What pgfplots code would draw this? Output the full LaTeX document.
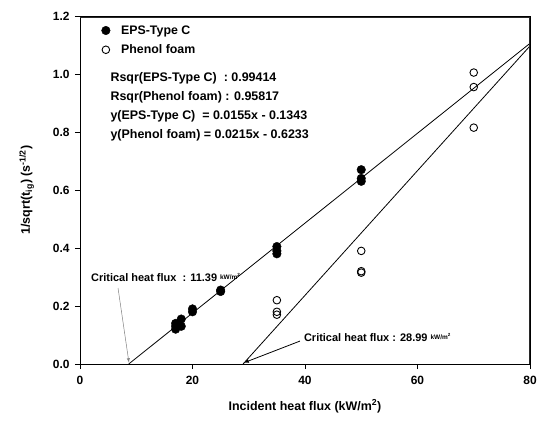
\documentclass[border=0pt]{standalone}
\usepackage{pgfplots}
\pgfplotsset{compat=1.18}
\usepackage{fontspec}
\setmainfont{Liberation Sans}
\definecolor{framegray}{RGB}{40,40,40}
\begin{document}
\begin{tikzpicture}
\begin{axis}[
  name=ax,
  scale only axis,
  width=450bp, height=348bp,
  xmin=0, xmax=80, ymin=0, ymax=1.2,
  xtick={0,20,40,60,80},
  ytick={0,0.2,0.4,0.6,0.8,1.0,1.2},
  axis line style={black, line width=0.8pt},
  tick style={black, line width=0.7pt},
  tick align=outside,
  tick pos=left,
  major tick length=5bp,
  /pgf/number format/assume math mode=true,
  yticklabel style={xshift=-2bp, /pgf/number format/fixed, /pgf/number format/fixed zerofill, /pgf/number format/precision=1},
  tick label style={font=\fontsize{12}{14}\selectfont\bfseries},
  xticklabel style={yshift=-4bp},
  label style={font=\fontsize{12.5}{14}\selectfont\bfseries},
  xlabel={Incident heat flux (kW/m\textsuperscript{2})},
  ylabel={1/sqrt(t\textsubscript{ig}) (s\textsuperscript{-1/2})},
  xlabel style={yshift=-8bp},
  ylabel style={yshift=12bp},
  legend style={at={(axis cs:3.8,1.175)}, anchor=north west, draw=none, fill=none,
    font=\fontsize{12.4}{14}\selectfont\bfseries, row sep=5bp, column sep=9bp, inner sep=0pt},
  legend cell align=left,
  clip=false,
]
\addplot[only marks, mark=*, mark size=4.3bp, mark options={fill=black, draw=black}] coordinates {
(17,0.12) (17,0.13) (17,0.14) (18,0.13) (18,0.155) (20,0.18) (20,0.19)
(25,0.25) (25,0.255) (35,0.38) (35,0.39) (35,0.405) (50,0.63) (50,0.64) (50,0.67)};
\addlegendentry{EPS-Type C}
\addplot[only marks, mark=o, mark size=3.8bp, mark options={draw=black, line width=0.9pt}] coordinates {
(35,0.22) (35,0.18) (35,0.17) (50,0.39) (50,0.32) (50,0.315) (70,1.005) (70,0.955) (70,0.815)};
\addlegendentry{Phenol foam}
\addplot[black, line width=0.8pt, forget plot] coordinates {(8.66,0) (80,1.1057)};
\addplot[black, line width=0.8pt, forget plot] coordinates {(28.99,0) (80,1.0967)};
\draw[framegray, line width=1.2pt] (axis cs:0,1.196) -- (axis cs:79.85,1.196) -- (axis cs:79.85,0);
\node[anchor=base west, font=\fontsize{12.5}{14}\selectfont\bfseries] at (axis cs:4.8,0.974) {Rsqr(EPS-Type C)\ \ : 0.99414};
\node[anchor=base west, font=\fontsize{12.5}{14}\selectfont\bfseries] at (axis cs:4.8,0.909) {Rsqr(Phenol foam) : 0.95817};
\node[anchor=base west, font=\fontsize{12.5}{14}\selectfont\bfseries] at (axis cs:4.8,0.843) {y(EPS-Type C)\ \ = 0.0155x - 0.1343};
\node[anchor=base west, font=\fontsize{12.5}{14}\selectfont\bfseries] at (axis cs:4.8,0.778) {y(Phenol foam) = 0.0215x - 0.6233};
\node[anchor=base west, inner sep=0pt, font=\fontsize{11}{13}\selectfont\bfseries] at (axis cs:1.96,0.283) {Critical heat flux\ \ : 11.39 {\fontsize{6.5}{7}\selectfont\raisebox{2.5bp}{kW/m\textsuperscript{2}}}};
\draw[gray, line width=0.5pt, -{latex}] (axis cs:6.76,0.262) -- (axis cs:8.7,0.005);
\node[anchor=base west, inner sep=0pt, font=\fontsize{11}{13}\selectfont\bfseries] at (axis cs:39.8,0.076) {Critical heat flux : 28.99 {\fontsize{6.5}{7}\selectfont\raisebox{2.5bp}{kW/m\textsuperscript{2}}}};
\draw[black, line width=0.8pt, -{latex}] (axis cs:39.1,0.079) -- (axis cs:29.1,0.004);
\end{axis}
\path[use as bounding box] ([shift={(-80bp,-57bp)}]ax.south west) rectangle ([shift={(11bp,16bp)}]ax.north east);
\end{tikzpicture}
\end{document}
